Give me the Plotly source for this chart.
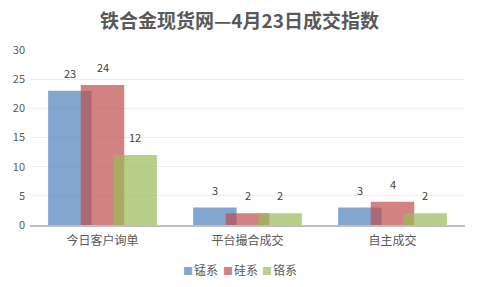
import plotly.graph_objects as go

categories = ["今日客户询单", "平台撮合成交", "自主成交"]
series_names = ["锰系", "硅系", "铬系"]
mn_values = [23, 3, 3]
si_values = [24, 2, 4]
cr_values = [12, 2, 2]
colors = ["#4F81BD", "#C0504D", "#9BBB59"]
bar_opacity = 0.7

bar_width = 0.30
offsets = [-0.375, -0.15, 0.075]

W, H = 479, 287
M_L, M_R, M_T, M_B = 30, 14, 50, 62
plot_w = W - M_L - M_R
plot_h = H - M_T - M_B


def faded(hex_color, alpha):
    """Colour of a semi-transparent fill seen over white."""
    r, g, b = (int(hex_color[i:i + 2], 16) for i in (1, 3, 5))
    mix = lambda c: round(alpha * c + (1 - alpha) * 255)
    return f"#{mix(r):02X}{mix(g):02X}{mix(b):02X}"


fig = go.Figure()
annotations = []
for name, vals, color, off in zip(series_names, [mn_values, si_values, cr_values], colors, offsets):
    fig.add_trace(go.Bar(
        x=list(range(len(categories))), y=vals, name=name,
        marker=dict(color=color, line=dict(width=0)), opacity=bar_opacity,
        width=bar_width, offset=off, showlegend=False,
    ))
    for i, v in enumerate(vals):
        annotations.append(dict(
            x=i + off + bar_width / 2, y=v, xref="x", yref="y",
            text=str(v), showarrow=False, yanchor="bottom", yshift=8,
            font=dict(size=11, color="#404040"),
        ))

# compact legend row below the plot: coloured square + series name
legend_px = [181, 221, 260]
legend_py = 269
for name, color, lx in zip(series_names, colors, legend_px):
    annotations.append(dict(
        x=(lx - M_L) / plot_w, y=(H - M_B - legend_py) / plot_h,
        xref="paper", yref="paper",
        xanchor="left", yanchor="middle", showarrow=False,
        text=(f"<span style='color:{faded(color, bar_opacity)};font-size:10px'>■</span>"
              f"<span style='font-size:4px'> </span>{name}"),
        font=dict(size=12, color="#595959"),
    ))

fig.update_layout(
    width=W, height=H,
    margin=dict(l=M_L, r=M_R, t=M_T, b=M_B),
    paper_bgcolor="white", plot_bgcolor="white",
    barmode="overlay",
    font=dict(family="Noto Sans CJK SC, sans-serif", color="#595959"),
    title=dict(text="<b>铁合金现货网—4月23日成交指数</b>", x=0.5, xanchor="center",
               y=1 - 21 / H, yanchor="middle", font=dict(size=19, color="#595959",
               family="Noto Sans CJK SC, sans-serif")),
    xaxis=dict(tickmode="array", tickvals=list(range(len(categories))), ticktext=categories,
               range=[-0.5, 2.5], showgrid=False, zeroline=False,
               showline=True, linecolor="#BFBFBF", linewidth=2,
               tickfont=dict(size=12, color="#595959"), ticks="",
               ticklabelstandoff=4),
    yaxis=dict(range=[0, 30], dtick=5, showgrid=True, gridcolor="#EDEDED", gridwidth=1,
               zeroline=False, showline=False, tickfont=dict(size=11, color="#595959"),
               ticks="", ticklabelstandoff=4),
    showlegend=False,
    annotations=annotations,
)

fig.write_html("out.html")
